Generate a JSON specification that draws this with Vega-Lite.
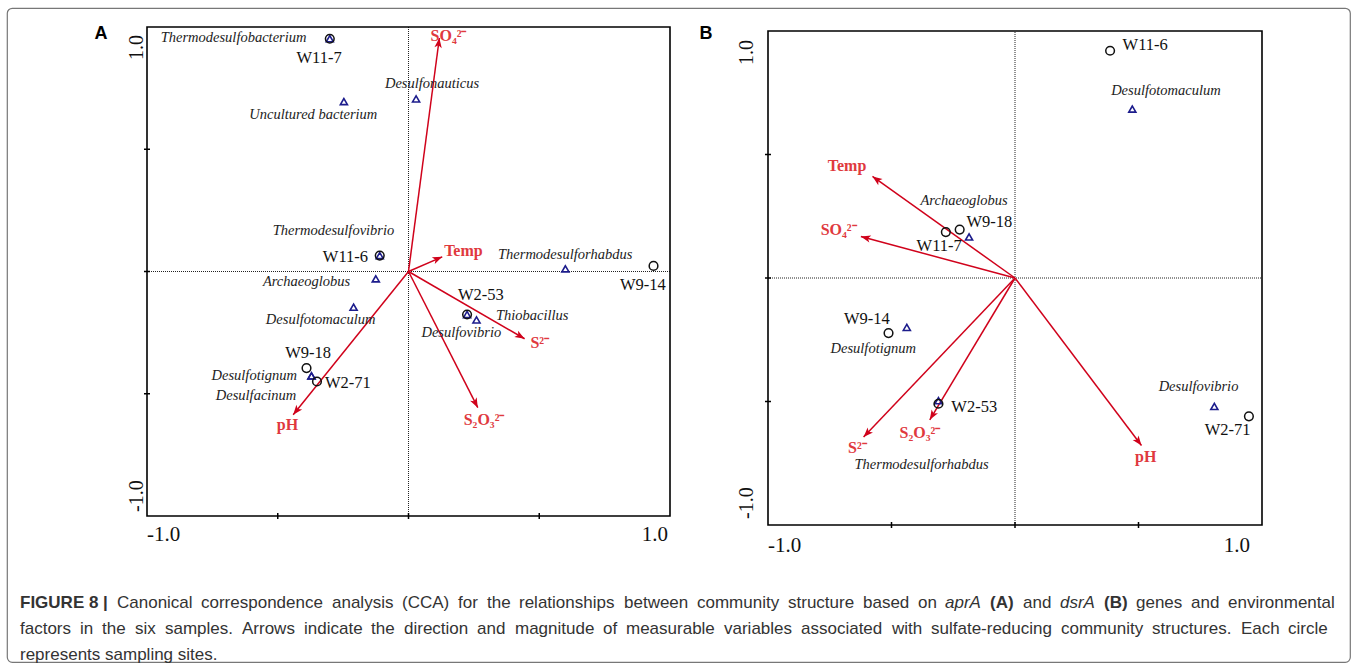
{
  "$schema": "https://vega.github.io/schema/vega-lite/v6.json",
  "width": 1343,
  "height": 654,
  "padding": {"left": 7, "top": 8, "right": 7, "bottom": 8},
  "autosize": {"type": "none"},
  "background": "white",
  "config": {
    "view": {"stroke": "#777777", "strokeWidth": 1.2, "cornerRadius": 5},
    "font": "Liberation Serif",
    "text": {"font": "Liberation Sans", "fontSize": 17, "color": "#333333", "align": "left", "baseline": "middle"}
  },
  "datasets": {
    "frame": [{"lo": -1, "hi": 1, "zero": 0}],
    "ticks": [{"v": -0.5, "lo": -1}, {"v": 0, "lo": -1}, {"v": 0.5, "lo": -1}],
    "ends": [{"v": -1, "lo": -1, "t": "-1.0"}, {"v": 1, "lo": -1, "t": "1.0"}],
    "a_sites": [
      {"label": "W11-7", "x": -0.301, "y": 0.952, "lx": -0.342, "ly": 0.874},
      {"label": "W11-6", "x": -0.110, "y": 0.065, "lx": -0.241, "ly": 0.060},
      {"label": "W9-14", "x": 0.937, "y": 0.023, "lx": 0.896, "ly": -0.054},
      {"label": "W2-53", "x": 0.224, "y": -0.176, "lx": 0.277, "ly": -0.095},
      {"label": "W9-18", "x": -0.390, "y": -0.395, "lx": -0.384, "ly": -0.333},
      {"label": "W2-71", "x": -0.350, "y": -0.450, "lx": -0.232, "ly": -0.455}
    ],
    "a_species": [
      {"label": "Thermodesulfobacterium", "x": -0.301, "y": 0.952, "lx": -0.669, "ly": 0.956},
      {"label": "Desulfonauticus", "x": 0.029, "y": 0.706, "lx": 0.090, "ly": 0.766},
      {"label": "Uncultured bacterium", "x": -0.247, "y": 0.695, "lx": -0.364, "ly": 0.641},
      {"label": "Thermodesulfovibrio", "x": -0.110, "y": 0.065, "lx": -0.287, "ly": 0.164},
      {"label": "Thermodesulforhabdus", "x": 0.600, "y": 0.011, "lx": 0.599, "ly": 0.068},
      {"label": "Archaeoglobus", "x": -0.125, "y": -0.030, "lx": -0.390, "ly": -0.041},
      {"label": "Desulfotomaculum", "x": -0.210, "y": -0.146, "lx": -0.336, "ly": -0.198},
      {"label": "Desulfovibrio", "x": 0.224, "y": -0.176, "lx": 0.202, "ly": -0.251},
      {"label": "Thiobacillus", "x": 0.260, "y": -0.198, "lx": 0.473, "ly": -0.181},
      {"label": "Desulfotignum", "x": -0.371, "y": -0.427, "lx": -0.590, "ly": -0.429},
      {"label": "Desulfacinum", "x": -0.371, "y": -0.427, "lx": -0.583, "ly": -0.508}
    ],
    "a_env": [
      {"label": "SO₄²⁻", "x0": 0, "y0": 0, "x": 0.118, "y": 0.955, "lx": 0.153, "ly": 0.964},
      {"label": "Temp", "x0": 0, "y0": 0, "x": 0.129, "y": 0.060, "lx": 0.210, "ly": 0.085},
      {"label": "S²⁻", "x0": 0, "y0": 0, "x": 0.444, "y": -0.275, "lx": 0.502, "ly": -0.292},
      {"label": "S₂O₃²⁻", "x0": 0, "y0": 0, "x": 0.265, "y": -0.557, "lx": 0.289, "ly": -0.607},
      {"label": "pH", "x0": 0, "y0": 0, "x": -0.441, "y": -0.586, "lx": -0.463, "ly": -0.627}
    ],
    "a_letter": [{"label": "A", "lx": -1.176, "ly": 0.973}],
    "b_sites": [
      {"label": "W11-6", "x": 0.385, "y": 0.920, "lx": 0.527, "ly": 0.945},
      {"label": "W9-18", "x": -0.224, "y": 0.196, "lx": -0.104, "ly": 0.227},
      {"label": "W11-7", "x": -0.280, "y": 0.186, "lx": -0.307, "ly": 0.128},
      {"label": "W9-14", "x": -0.512, "y": -0.223, "lx": -0.600, "ly": -0.166},
      {"label": "W2-53", "x": -0.310, "y": -0.509, "lx": -0.165, "ly": -0.522},
      {"label": "W2-71", "x": 0.947, "y": -0.560, "lx": 0.861, "ly": -0.614}
    ],
    "b_species": [
      {"label": "Desulfotomaculum", "x": 0.475, "y": 0.684, "lx": 0.611, "ly": 0.758},
      {"label": "Archaeoglobus", "x": -0.186, "y": 0.166, "lx": -0.206, "ly": 0.310},
      {"label": "Desulfotignum", "x": -0.438, "y": -0.200, "lx": -0.574, "ly": -0.286},
      {"label": "Thermodesulforhabdus", "x": -0.310, "y": -0.497, "lx": -0.378, "ly": -0.756},
      {"label": "Desulfovibrio", "x": 0.807, "y": -0.520, "lx": 0.743, "ly": -0.441}
    ],
    "b_env": [
      {"label": "Temp", "x0": 0, "y0": 0, "x": -0.577, "y": 0.411, "lx": -0.680, "ly": 0.452},
      {"label": "SO₄²⁻", "x0": 0, "y0": 0, "x": -0.624, "y": 0.168, "lx": -0.714, "ly": 0.196},
      {"label": "S²⁻", "x0": 0, "y0": 0, "x": -0.613, "y": -0.644, "lx": -0.638, "ly": -0.688},
      {"label": "S₂O₃²⁻", "x0": 0, "y0": 0, "x": -0.345, "y": -0.574, "lx": -0.385, "ly": -0.628},
      {"label": "pH", "x0": 0, "y0": 0, "x": 0.512, "y": -0.678, "lx": 0.529, "ly": -0.725}
    ],
    "b_letter": [{"label": "B", "lx": -1.251, "ly": 0.988}]
  },
  "resolve": {"scale": {"x": "independent", "y": "independent"}},
  "layer": [
    {
      "layer": [
        {"data": {"name": "frame"}, "mark": {"type": "rule", "stroke": "#222222", "strokeDash": [1, 1], "strokeWidth": 1},
          "encoding": {
            "x": {"field": "zero", "type": "quantitative", "scale": {"domain": [-1, 1], "range": [140, 663], "nice": false, "zero": false}, "axis": null},
            "y": {"field": "lo", "type": "quantitative", "scale": {"domain": [-1, 1], "range": [508, 19], "nice": false, "zero": false}, "axis": null},
            "y2": {"field": "hi"}}},
        {"data": {"name": "frame"}, "mark": {"type": "rule", "stroke": "#222222", "strokeDash": [1, 1], "strokeWidth": 1},
          "encoding": {"y": {"field": "zero", "type": "quantitative", "axis": null}, "x": {"field": "lo", "type": "quantitative", "axis": null}, "x2": {"field": "hi"}}},
        {"data": {"name": "frame"}, "mark": {"type": "rect", "fill": "transparent", "stroke": "#000000", "strokeWidth": 1.6},
          "encoding": {"x": {"field": "lo", "type": "quantitative", "axis": null}, "x2": {"field": "hi"}, "y": {"field": "lo", "type": "quantitative", "axis": null}, "y2": {"field": "hi"}}},
        {"data": {"name": "ticks"}, "mark": {"type": "point", "shape": "stroke", "angle": 90, "size": 36, "color": "#000000", "strokeWidth": 1.5, "opacity": 1},
          "encoding": {"x": {"field": "v", "type": "quantitative", "axis": null}, "y": {"field": "lo", "type": "quantitative", "axis": null}}},
        {"data": {"name": "ticks"}, "mark": {"type": "point", "shape": "stroke", "angle": 0, "size": 36, "color": "#000000", "strokeWidth": 1.5, "opacity": 1},
          "encoding": {"x": {"field": "lo", "type": "quantitative", "axis": null}, "y": {"field": "v", "type": "quantitative", "axis": null}}},
        {"data": {"name": "ends"}, "transform": [{"filter": "datum.v < 0"}],
          "mark": {"type": "text", "font": "Liberation Serif", "fontSize": 21, "color": "#111111", "align": "left", "baseline": "top", "dy": 8},
          "encoding": {"x": {"field": "v", "type": "quantitative", "axis": null}, "y": {"field": "lo", "type": "quantitative", "axis": null}, "text": {"field": "t"}}},
        {"data": {"name": "ends"}, "transform": [{"filter": "datum.v > 0"}],
          "mark": {"type": "text", "font": "Liberation Serif", "fontSize": 21, "color": "#111111", "align": "right", "baseline": "top", "dy": 8, "dx": -2},
          "encoding": {"x": {"field": "v", "type": "quantitative", "axis": null}, "y": {"field": "lo", "type": "quantitative", "axis": null}, "text": {"field": "t"}}},
        {"data": {"name": "ends"}, "transform": [{"filter": "datum.v > 0"}],
          "mark": {"type": "text", "font": "Liberation Serif", "fontSize": 20, "color": "#111111", "align": "right", "baseline": "bottom", "angle": 270, "dx": -8, "dy": 0},
          "encoding": {"x": {"field": "lo", "type": "quantitative", "axis": null}, "y": {"field": "v", "type": "quantitative", "axis": null}, "text": {"field": "t"}}},
        {"data": {"name": "ends"}, "transform": [{"filter": "datum.v < 0"}],
          "mark": {"type": "text", "font": "Liberation Serif", "fontSize": 20, "color": "#111111", "align": "left", "baseline": "bottom", "angle": 270, "dx": 4, "dy": 0},
          "encoding": {"x": {"field": "lo", "type": "quantitative", "axis": null}, "y": {"field": "v", "type": "quantitative", "axis": null}, "text": {"field": "t"}}},
        {"data": {"name": "a_env"}, "mark": {"type": "rule", "color": "#d0021b", "strokeWidth": 1.5},
          "encoding": {"x": {"field": "x0", "type": "quantitative", "axis": null}, "y": {"field": "y0", "type": "quantitative", "axis": null}, "x2": {"field": "x"}, "y2": {"field": "y"}}},
        {"data": {"name": "a_env"}, "transform": [{"calculate": "atan2(datum.x * 261.5, datum.y * 244.5) * 180 / PI", "as": "ang"}],
          "mark": {"type": "point", "shape": "M0,0L-0.38,1L0,0.75L0.38,1Z", "filled": true, "color": "#d0021b", "size": 380, "opacity": 1, "strokeWidth": 0},
          "encoding": {"x": {"field": "x", "type": "quantitative", "axis": null}, "y": {"field": "y", "type": "quantitative", "axis": null}, "angle": {"field": "ang", "type": "quantitative", "scale": null}}},
        {"data": {"name": "a_species"}, "mark": {"type": "point", "shape": "triangle-up", "filled": false, "color": "#1c1c8c", "size": 50, "strokeWidth": 1.6, "opacity": 1},
          "encoding": {"x": {"field": "x", "type": "quantitative", "axis": null}, "y": {"field": "y", "type": "quantitative", "axis": null}}},
        {"data": {"name": "a_sites"}, "mark": {"type": "point", "shape": "circle", "filled": false, "color": "#111111", "size": 75, "strokeWidth": 1.5, "opacity": 1},
          "encoding": {"x": {"field": "x", "type": "quantitative", "axis": null}, "y": {"field": "y", "type": "quantitative", "axis": null}}},
        {"data": {"name": "a_species"}, "mark": {"type": "text", "font": "Liberation Serif", "fontStyle": "italic", "fontSize": 14.5, "color": "#222222", "align": "center", "baseline": "middle"},
          "encoding": {"x": {"field": "lx", "type": "quantitative", "axis": null}, "y": {"field": "ly", "type": "quantitative", "axis": null}, "text": {"field": "label"}}},
        {"data": {"name": "a_sites"}, "mark": {"type": "text", "font": "Liberation Serif", "fontSize": 16.5, "color": "#111111", "align": "center", "baseline": "middle"},
          "encoding": {"x": {"field": "lx", "type": "quantitative", "axis": null}, "y": {"field": "ly", "type": "quantitative", "axis": null}, "text": {"field": "label"}}},
        {"data": {"name": "a_env"}, "mark": {"type": "text", "font": "Liberation Serif", "fontWeight": "bold", "fontSize": 16, "color": "#e0393e", "align": "center", "baseline": "middle"},
          "encoding": {"x": {"field": "lx", "type": "quantitative", "axis": null}, "y": {"field": "ly", "type": "quantitative", "axis": null}, "text": {"field": "label"}}},
        {"data": {"name": "a_letter"}, "mark": {"type": "text", "font": "Liberation Sans", "fontWeight": "bold", "fontSize": 18, "color": "#000000", "align": "center", "baseline": "middle"},
          "encoding": {"x": {"field": "lx", "type": "quantitative", "axis": null}, "y": {"field": "ly", "type": "quantitative", "axis": null}, "text": {"field": "label"}}}
      ]
    },
    {
      "layer": [
        {"data": {"name": "frame"}, "mark": {"type": "rule", "stroke": "#222222", "strokeDash": [1, 1], "strokeWidth": 1},
          "encoding": {
            "x": {"field": "zero", "type": "quantitative", "scale": {"domain": [-1, 1], "range": [761, 1255], "nice": false, "zero": false}, "axis": null},
            "y": {"field": "lo", "type": "quantitative", "scale": {"domain": [-1, 1], "range": [517, 23], "nice": false, "zero": false}, "axis": null},
            "y2": {"field": "hi"}}},
        {"data": {"name": "frame"}, "mark": {"type": "rule", "stroke": "#222222", "strokeDash": [1, 1], "strokeWidth": 1},
          "encoding": {"y": {"field": "zero", "type": "quantitative", "axis": null}, "x": {"field": "lo", "type": "quantitative", "axis": null}, "x2": {"field": "hi"}}},
        {"data": {"name": "frame"}, "mark": {"type": "rect", "fill": "transparent", "stroke": "#000000", "strokeWidth": 1.6},
          "encoding": {"x": {"field": "lo", "type": "quantitative", "axis": null}, "x2": {"field": "hi"}, "y": {"field": "lo", "type": "quantitative", "axis": null}, "y2": {"field": "hi"}}},
        {"data": {"name": "ticks"}, "mark": {"type": "point", "shape": "stroke", "angle": 90, "size": 36, "color": "#000000", "strokeWidth": 1.5, "opacity": 1},
          "encoding": {"x": {"field": "v", "type": "quantitative", "axis": null}, "y": {"field": "lo", "type": "quantitative", "axis": null}}},
        {"data": {"name": "ticks"}, "mark": {"type": "point", "shape": "stroke", "angle": 0, "size": 36, "color": "#000000", "strokeWidth": 1.5, "opacity": 1},
          "encoding": {"x": {"field": "lo", "type": "quantitative", "axis": null}, "y": {"field": "v", "type": "quantitative", "axis": null}}},
        {"data": {"name": "ends"}, "transform": [{"filter": "datum.v < 0"}],
          "mark": {"type": "text", "font": "Liberation Serif", "fontSize": 21, "color": "#111111", "align": "left", "baseline": "top", "dy": 10},
          "encoding": {"x": {"field": "v", "type": "quantitative", "axis": null}, "y": {"field": "lo", "type": "quantitative", "axis": null}, "text": {"field": "t"}}},
        {"data": {"name": "ends"}, "transform": [{"filter": "datum.v > 0"}],
          "mark": {"type": "text", "font": "Liberation Serif", "fontSize": 21, "color": "#111111", "align": "right", "baseline": "top", "dy": 10, "dx": -12},
          "encoding": {"x": {"field": "v", "type": "quantitative", "axis": null}, "y": {"field": "lo", "type": "quantitative", "axis": null}, "text": {"field": "t"}}},
        {"data": {"name": "ends"}, "transform": [{"filter": "datum.v > 0"}],
          "mark": {"type": "text", "font": "Liberation Serif", "fontSize": 20, "color": "#111111", "align": "right", "baseline": "bottom", "angle": 270, "dx": -9, "dy": -11},
          "encoding": {"x": {"field": "lo", "type": "quantitative", "axis": null}, "y": {"field": "v", "type": "quantitative", "axis": null}, "text": {"field": "t"}}},
        {"data": {"name": "ends"}, "transform": [{"filter": "datum.v < 0"}],
          "mark": {"type": "text", "font": "Liberation Serif", "fontSize": 20, "color": "#111111", "align": "left", "baseline": "bottom", "angle": 270, "dx": 6, "dy": -11},
          "encoding": {"x": {"field": "lo", "type": "quantitative", "axis": null}, "y": {"field": "v", "type": "quantitative", "axis": null}, "text": {"field": "t"}}},
        {"data": {"name": "b_env"}, "mark": {"type": "rule", "color": "#d0021b", "strokeWidth": 1.5},
          "encoding": {"x": {"field": "x0", "type": "quantitative", "axis": null}, "y": {"field": "y0", "type": "quantitative", "axis": null}, "x2": {"field": "x"}, "y2": {"field": "y"}}},
        {"data": {"name": "b_env"}, "transform": [{"calculate": "atan2(datum.x * 247, datum.y * 247) * 180 / PI", "as": "ang"}],
          "mark": {"type": "point", "shape": "M0,0L-0.38,1L0,0.75L0.38,1Z", "filled": true, "color": "#d0021b", "size": 380, "opacity": 1, "strokeWidth": 0},
          "encoding": {"x": {"field": "x", "type": "quantitative", "axis": null}, "y": {"field": "y", "type": "quantitative", "axis": null}, "angle": {"field": "ang", "type": "quantitative", "scale": null}}},
        {"data": {"name": "b_species"}, "mark": {"type": "point", "shape": "triangle-up", "filled": false, "color": "#1c1c8c", "size": 50, "strokeWidth": 1.6, "opacity": 1},
          "encoding": {"x": {"field": "x", "type": "quantitative", "axis": null}, "y": {"field": "y", "type": "quantitative", "axis": null}}},
        {"data": {"name": "b_sites"}, "mark": {"type": "point", "shape": "circle", "filled": false, "color": "#111111", "size": 75, "strokeWidth": 1.5, "opacity": 1},
          "encoding": {"x": {"field": "x", "type": "quantitative", "axis": null}, "y": {"field": "y", "type": "quantitative", "axis": null}}},
        {"data": {"name": "b_species"}, "mark": {"type": "text", "font": "Liberation Serif", "fontStyle": "italic", "fontSize": 14.5, "color": "#222222", "align": "center", "baseline": "middle"},
          "encoding": {"x": {"field": "lx", "type": "quantitative", "axis": null}, "y": {"field": "ly", "type": "quantitative", "axis": null}, "text": {"field": "label"}}},
        {"data": {"name": "b_sites"}, "mark": {"type": "text", "font": "Liberation Serif", "fontSize": 16.5, "color": "#111111", "align": "center", "baseline": "middle"},
          "encoding": {"x": {"field": "lx", "type": "quantitative", "axis": null}, "y": {"field": "ly", "type": "quantitative", "axis": null}, "text": {"field": "label"}}},
        {"data": {"name": "b_env"}, "mark": {"type": "text", "font": "Liberation Serif", "fontWeight": "bold", "fontSize": 16, "color": "#e0393e", "align": "center", "baseline": "middle"},
          "encoding": {"x": {"field": "lx", "type": "quantitative", "axis": null}, "y": {"field": "ly", "type": "quantitative", "axis": null}, "text": {"field": "label"}}},
        {"data": {"name": "b_letter"}, "mark": {"type": "text", "font": "Liberation Sans", "fontWeight": "bold", "fontSize": 18, "color": "#000000", "align": "center", "baseline": "middle"},
          "encoding": {"x": {"field": "lx", "type": "quantitative", "axis": null}, "y": {"field": "ly", "type": "quantitative", "axis": null}, "text": {"field": "label"}}}
      ]
    },
    {
      "encoding": {
        "x": {"field": "col", "type": "quantitative", "scale": {"domain": [0, 1], "range": [13, 1333], "nice": false, "zero": false}, "axis": null},
        "y": {"field": "line", "type": "ordinal", "scale": {"type": "point", "domain": [1, 2, 3], "range": [595, 647], "padding": 0}, "axis": null},
        "text": {"field": "text"}
      },
      "layer": [
        {"data": {"values": [{"line": 1, "col": 0, "text": "FIGURE 8 |"}]}, "mark": {"type": "text", "fontWeight": "bold", "dx": 0}},
        {"data": {"values": [{"line": 1, "col": 0, "text": "Canonical"}]}, "mark": {"type": "text", "dx": 97}},
        {"data": {"values": [{"line": 1, "col": 0, "text": "correspondence"}]}, "mark": {"type": "text", "dx": 181}},
        {"data": {"values": [{"line": 1, "col": 0, "text": "analysis"}]}, "mark": {"type": "text", "dx": 312}},
        {"data": {"values": [{"line": 1, "col": 0, "text": "(CCA)"}]}, "mark": {"type": "text", "dx": 382}},
        {"data": {"values": [{"line": 1, "col": 0, "text": "for"}]}, "mark": {"type": "text", "dx": 438}},
        {"data": {"values": [{"line": 1, "col": 0, "text": "the"}]}, "mark": {"type": "text", "dx": 467}},
        {"data": {"values": [{"line": 1, "col": 0, "text": "relationships"}]}, "mark": {"type": "text", "dx": 499}},
        {"data": {"values": [{"line": 1, "col": 0, "text": "between"}]}, "mark": {"type": "text", "dx": 604}},
        {"data": {"values": [{"line": 1, "col": 0, "text": "community"}]}, "mark": {"type": "text", "dx": 677}},
        {"data": {"values": [{"line": 1, "col": 0, "text": "structure"}]}, "mark": {"type": "text", "dx": 768}},
        {"data": {"values": [{"line": 1, "col": 0, "text": "based"}]}, "mark": {"type": "text", "dx": 843}},
        {"data": {"values": [{"line": 1, "col": 0, "text": "on"}]}, "mark": {"type": "text", "dx": 898}},
        {"data": {"values": [{"line": 1, "col": 0, "text": "aprA"}]}, "mark": {"type": "text", "fontStyle": "italic", "dx": 925}},
        {"data": {"values": [{"line": 1, "col": 0, "text": "(A)"}]}, "mark": {"type": "text", "fontWeight": "bold", "dx": 970}},
        {"data": {"values": [{"line": 1, "col": 0, "text": "and"}]}, "mark": {"type": "text", "dx": 1003}},
        {"data": {"values": [{"line": 1, "col": 0, "text": "dsrA"}]}, "mark": {"type": "text", "fontStyle": "italic", "dx": 1040}},
        {"data": {"values": [{"line": 1, "col": 0, "text": "(B)"}]}, "mark": {"type": "text", "fontWeight": "bold", "dx": 1084}},
        {"data": {"values": [{"line": 1, "col": 0, "text": "genes"}]}, "mark": {"type": "text", "dx": 1116}},
        {"data": {"values": [{"line": 1, "col": 0, "text": "and"}]}, "mark": {"type": "text", "dx": 1171}},
        {"data": {"values": [{"line": 1, "col": 0, "text": "environmental"}]}, "mark": {"type": "text", "dx": 1208}},
        {"data": {"values": [{"line": 2, "col": 0, "text": "factors"}]}, "mark": {"type": "text", "dx": 0}},
        {"data": {"values": [{"line": 2, "col": 0, "text": "in"}]}, "mark": {"type": "text", "dx": 60}},
        {"data": {"values": [{"line": 2, "col": 0, "text": "the"}]}, "mark": {"type": "text", "dx": 82}},
        {"data": {"values": [{"line": 2, "col": 0, "text": "six"}]}, "mark": {"type": "text", "dx": 115}},
        {"data": {"values": [{"line": 2, "col": 0, "text": "samples."}]}, "mark": {"type": "text", "dx": 145}},
        {"data": {"values": [{"line": 2, "col": 0, "text": "Arrows"}]}, "mark": {"type": "text", "dx": 222}},
        {"data": {"values": [{"line": 2, "col": 0, "text": "indicate"}]}, "mark": {"type": "text", "dx": 284}},
        {"data": {"values": [{"line": 2, "col": 0, "text": "the"}]}, "mark": {"type": "text", "dx": 351}},
        {"data": {"values": [{"line": 2, "col": 0, "text": "direction"}]}, "mark": {"type": "text", "dx": 384}},
        {"data": {"values": [{"line": 2, "col": 0, "text": "and"}]}, "mark": {"type": "text", "dx": 457}},
        {"data": {"values": [{"line": 2, "col": 0, "text": "magnitude"}]}, "mark": {"type": "text", "dx": 495}},
        {"data": {"values": [{"line": 2, "col": 0, "text": "of"}]}, "mark": {"type": "text", "dx": 583}},
        {"data": {"values": [{"line": 2, "col": 0, "text": "measurable"}]}, "mark": {"type": "text", "dx": 606}},
        {"data": {"values": [{"line": 2, "col": 0, "text": "variables"}]}, "mark": {"type": "text", "dx": 704}},
        {"data": {"values": [{"line": 2, "col": 0, "text": "associated"}]}, "mark": {"type": "text", "dx": 781}},
        {"data": {"values": [{"line": 2, "col": 0, "text": "with"}]}, "mark": {"type": "text", "dx": 872}},
        {"data": {"values": [{"line": 2, "col": 0, "text": "sulfate-reducing"}]}, "mark": {"type": "text", "dx": 911}},
        {"data": {"values": [{"line": 2, "col": 0, "text": "community"}]}, "mark": {"type": "text", "dx": 1041}},
        {"data": {"values": [{"line": 2, "col": 0, "text": "structures."}]}, "mark": {"type": "text", "dx": 1132}},
        {"data": {"values": [{"line": 2, "col": 0, "text": "Each"}]}, "mark": {"type": "text", "dx": 1221}},
        {"data": {"values": [{"line": 2, "col": 0, "text": "circle"}]}, "mark": {"type": "text", "dx": 1268}},
        {"data": {"values": [{"line": 3, "col": 0, "text": "represents sampling sites."}]}, "mark": {"type": "text", "dx": 0}}
      ]
    }
  ]
}
